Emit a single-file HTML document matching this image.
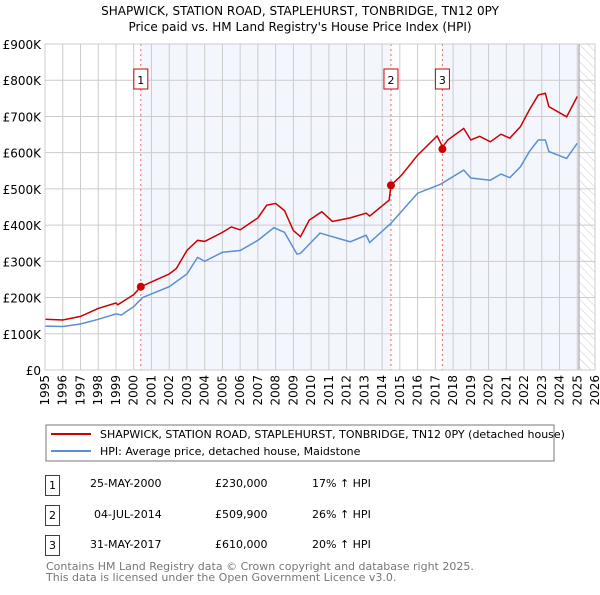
<!DOCTYPE html>
<html><head><meta charset="utf-8"><style>
body{margin:0;background:#fff;font-family:"Liberation Sans","DejaVu Sans",sans-serif}
svg text{font-family:"DejaVu Sans","Liberation Sans",sans-serif}
</style></head><body>
<svg id="c" width="600" height="590" xmlns="http://www.w3.org/2000/svg">
<defs><pattern id="hatch" width="6" height="6" patternUnits="userSpaceOnUse" patternTransform="rotate(-45)"><line x1="0" y1="0" x2="0" y2="6" stroke="#ccc" stroke-width="1"/></pattern></defs>
<text x="300" y="15" text-anchor="middle" font-size="12">SHAPWICK, STATION ROAD, STAPLEHURST, TONBRIDGE, TN12 0PY</text>
<text x="300" y="31" text-anchor="middle" font-size="12">Price paid vs. HM Land Registry's House Price Index (HPI)</text>
<g id="plot"></g>
<rect x="46" y="425" width="508" height="36" fill="#fff" stroke="#777"/>
<line x1="51" y1="434" x2="91" y2="434" stroke="#cc0000" stroke-width="2"/>
<text x="100" y="438" font-size="11">SHAPWICK, STATION ROAD, STAPLEHURST, TONBRIDGE, TN12 0PY (detached house)</text>
<line x1="51" y1="451" x2="91" y2="451" stroke="#5b8fd4" stroke-width="2"/>
<text x="100" y="455" font-size="11">HPI: Average price, detached house, Maidstone</text>
<g font-size="11">
<rect x="45.5" y="475.5" width="14" height="20" fill="#fff" stroke="#cc0000"/><text x="52.5" y="489" text-anchor="middle">1</text>
<text x="90" y="487">25-MAY-2000</text><text x="215" y="487">£230,000</text><text x="312" y="487">17% ↑ HPI</text>
<rect x="45.5" y="505.5" width="14" height="20" fill="#fff" stroke="#cc0000"/><text x="52.5" y="519" text-anchor="middle">2</text>
<text x="94" y="518">04-JUL-2014</text><text x="215" y="518">£509,900</text><text x="312" y="518">26% ↑ HPI</text>
<rect x="45.5" y="535.5" width="14" height="20" fill="#fff" stroke="#cc0000"/><text x="52.5" y="549" text-anchor="middle">3</text>
<text x="90" y="548">31-MAY-2017</text><text x="215" y="548">£610,000</text><text x="312" y="548">20% ↑ HPI</text>
</g>
<text x="46" y="570" font-size="11" fill="#777">Contains HM Land Registry data © Crown copyright and database right 2025.</text>
<text x="46" y="581" font-size="11" fill="#777">This data is licensed under the Open Government Licence v3.0.</text>
</svg>
<script>
const hpiYears=[1995,1996,1997,1998,1999,1999.3,2000,2000.5,2001,2002,2003,2003.6,2004,2005,2006,2007,2007.9,2008.5,2009.2,2009.4,2010.5,2011.2,2012.2,2013.1,2013.3,2014.5,2016,2017.3,2018.6,2019,2020.1,2020.7,2021.2,2021.8,2022.3,2022.8,2023.2,2023.4,2024.4,2025.0];
const hpiValues=[121,120,127,140,155,152,175,200,210,230,265,311,300,325,330,358,393,380,320,322,378,368,354,372,352,405,488,513,552,530,524,541,531,561,603,635,635,603,584,626];
const propYears=[1995,1996,1997,1998,1999,1999.1,2000,2000.4,2001,2002,2002.4,2003,2003.6,2004,2005,2005.5,2006,2007,2007.5,2008,2008.5,2009,2009.4,2009.9,2010.6,2011.2,2012.2,2013.1,2013.3,2014.4,2014.5,2015.1,2016,2017.1,2017.3,2017.4,2017.7,2018.6,2019,2019.5,2020.1,2020.7,2021.2,2021.8,2022.3,2022.8,2023.2,2023.4,2024.4,2025.0];
const propValues=[140,138,148,170,185,180,208,230,243,265,280,330,358,355,380,395,387,420,455,460,440,385,368,414,437,410,420,433,425,469,510,538,593,646,627,615,635,667,635,645,630,651,640,672,718,759,764,727,699,755];
const saleLabels=["1","2","3"];
const saleYears=[2000.4,2014.5,2017.4];
const saleValues=[230,509.9,610];
const yTicks=[0,100,200,300,400,500,600,700,800,900];
const yTickLabels=["£0","£100K","£200K","£300K","£400K","£500K","£600K","£700K","£800K","£900K"];
const xTicks=[1995,1996,1997,1998,1999,2000,2001,2002,2003,2004,2005,2006,2007,2008,2009,2010,2011,2012,2013,2014,2015,2016,2017,2018,2019,2020,2021,2022,2023,2024,2025,2026];

const L=45,R=595,T=44,B=370;
const x=y=>L+(y-1995)/(2026-1995)*(R-L);
const yv=v=>B-v/900*(B-T);
const NS="http://www.w3.org/2000/svg";
const g=document.getElementById('plot');
function mk(t,a,p){const e=document.createElementNS(NS,t);for(const k in a)e.setAttribute(k,a[k]);(p||g).appendChild(e);return e;}
const bg=mk('rect',{x:L,y:T,width:R-L,height:B-T,fill:'#fff'});


const sh1=mk('rect',{x:x(saleYears[0]),y:T,width:x(saleYears[1])-x(saleYears[0]),height:B-T,fill:'#f3f6fd'});


const sh2=mk('rect',{x:x(saleYears[2]),y:T,width:x(2025.1)-x(saleYears[2]),height:B-T,fill:'#f3f6fd'});


const ht=mk('rect',{x:x(2025.1),y:T,width:R-x(2025.1),height:B-T,fill:'url(#hatch)'});


xTicks.forEach(t=>{const l=mk('line',{x1:x(t),x2:x(t),y1:T,y2:B,stroke:'#ccc'});


const tx=mk('text',{x:0,y:0,'font-size':12,'text-anchor':'end',transform:`translate(${x(t)+4},${B+5}) rotate(-90)`});tx.textContent=t;

});
yTicks.forEach((t,i)=>{const l=mk('line',{x1:L,x2:R,y1:yv(t),y2:yv(t),stroke:'#ccc'});


const tx=mk('text',{x:L-4,y:yv(t)+5,'font-size':12,'text-anchor':'end'});tx.textContent=yTickLabels[i];

});
const ed=mk('line',{x1:x(2025.1),x2:x(2025.1),y1:T,y2:B,stroke:'#999'});


saleYears.forEach((s,i)=>{const l=mk('line',{x1:x(s),x2:x(s),y1:T,y2:B,stroke:'#e66','stroke-dasharray':'2,3'});


const r=mk('rect',{x:x(s)-7,y:69,width:14,height:20,fill:'#fff',stroke:'#cc0000'});


const tx=mk('text',{x:x(s),y:84,'font-size':11,'text-anchor':'middle'});tx.textContent=saleLabels[i];

});
const hp=mk('polyline',{points:hpiYears.map((t,i)=>x(t)+','+yv(hpiValues[i])).join(' '),fill:'none',stroke:'#5b8fd4','stroke-width':1.5});


const pp=mk('polyline',{points:propYears.map((t,i)=>x(t)+','+yv(propValues[i])).join(' '),fill:'none',stroke:'#cc0000','stroke-width':1.5});


saleYears.forEach((s,i)=>{const c=mk('circle',{cx:x(s),cy:yv(saleValues[i]),r:4,fill:'#cc0000'});

});
const ax=mk('rect',{x:L,y:T,width:R-L,height:B-T,fill:'none',stroke:'#ccc'});


</script>
</body></html>
